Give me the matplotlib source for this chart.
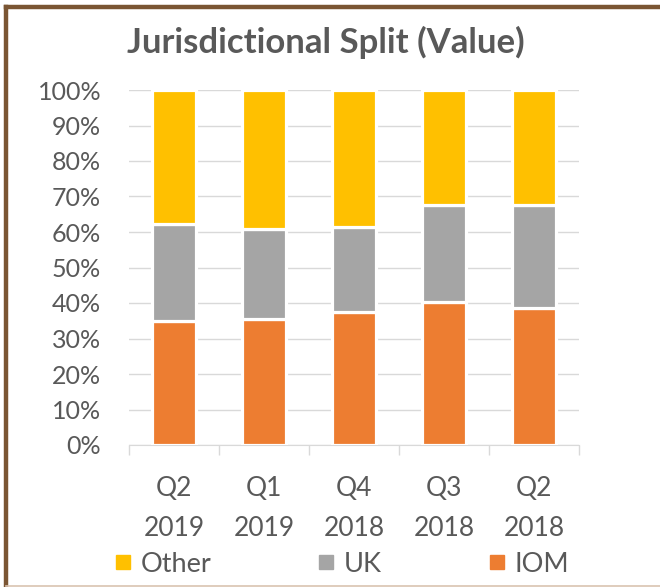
import numpy as np
import matplotlib.pyplot as plt
from matplotlib.lines import Line2D
from matplotlib.ticker import PercentFormatter

quarters = ["Q2\n2019", "Q1\n2019", "Q4\n2018", "Q3\n2018", "Q2\n2018"]
iom = [34.8, 35.5, 37.4, 40.3, 38.5]
uk = [27.5, 25.4, 23.9, 27.4, 29.2]
other = [37.7, 39.1, 38.7, 32.3, 32.3]

colors = {"IOM": "#ED7D31", "UK": "#A5A5A5", "Other": "#FFC000"}
text_col = "#595959"

plt.rcParams['font.family'] = ['Lato', 'DejaVu Sans']

fig = plt.figure(figsize=(6.6, 5.87), dpi=100)
ax = fig.add_axes([129/660, (587-445)/587, 450/660, 355/587])

x = np.arange(len(quarters))
w = 0.49
bottom = np.zeros(len(quarters))
for name, vals in [("IOM", iom), ("UK", uk), ("Other", other)]:
    ax.bar(x, vals, w, bottom=bottom, color=colors[name], edgecolor="white",
           linewidth=2.3, zorder=3)
    bottom += np.array(vals)

ax.set_xlim(-0.5, len(quarters) - 0.5)
ax.set_ylim(0, 100)
ax.set_yticks(np.arange(0, 101, 10))
ax.yaxis.set_major_formatter(PercentFormatter(decimals=0))
ax.set_xticks(x)
ax.set_xticklabels(quarters, linespacing=1.75)
ax.set_xticks(np.arange(-0.5, len(quarters)), minor=True)
ax.grid(axis="y", color="#D9D9D9", linewidth=1, zorder=0)
for s in ["top", "right", "left"]:
    ax.spines[s].set_visible(False)
ax.spines["bottom"].set_color("#D9D9D9")
ax.tick_params(axis="y", length=0, labelsize=18, colors=text_col, pad=20)
ax.tick_params(axis="x", which="major", length=0, labelsize=19, colors=text_col, pad=22)
ax.tick_params(axis="x", which="minor", length=7.2, color="#D9D9D9", width=1)

fig.text(0.494, (587-42)/587, "Jurisdictional Split (Value)", ha="center", va="center",
         fontsize=25, fontweight="bold", color=text_col)

handles = [Line2D([], [], marker="s", linestyle="none", markersize=9.5,
                  color=colors[n]) for n in ["Other", "UK", "IOM"]]
fig.legend(handles, ["Other", "UK", "IOM"], loc="center left", ncol=3,
           bbox_to_anchor=(116/660, (587-564)/587), frameon=False, borderpad=0,
           borderaxespad=0, fontsize=19.5, labelcolor=text_col, handletextpad=0.4,
           columnspacing=4.0, handlelength=0.5)

# frame around the chart
fig.add_artist(Line2D([6/660, 6/660], [0, 1 - 7/587], color="#7A5533", linewidth=3.2,
                      transform=fig.transFigure))
fig.add_artist(Line2D([6/660, 1], [1 - 7/587, 1 - 7/587], color="#7A5533", linewidth=3.2,
                      transform=fig.transFigure))
fig.add_artist(Line2D([6/660, 1], [1.5/587, 1.5/587], color="#D9C3B0", linewidth=1.2,
                      transform=fig.transFigure))

fig.savefig("out.png", dpi=100)
